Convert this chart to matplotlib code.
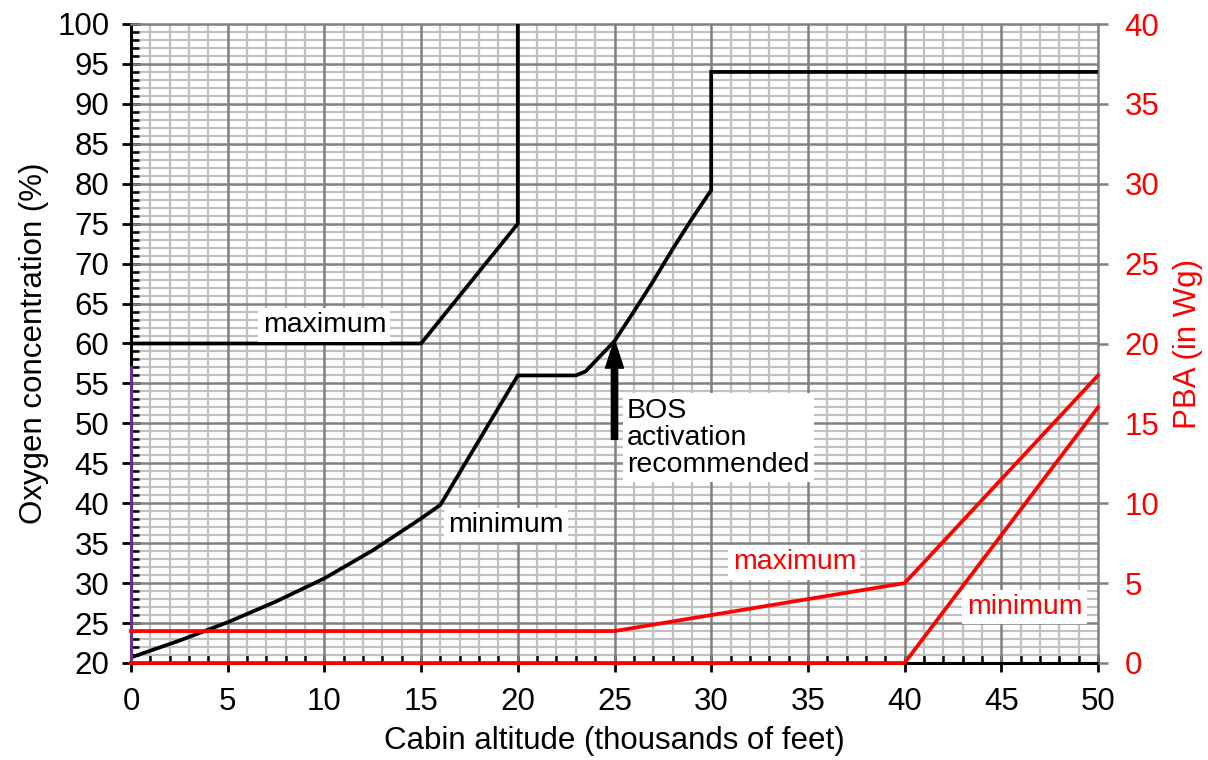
import matplotlib
matplotlib.use("Agg")
import matplotlib.pyplot as plt
from matplotlib.ticker import MultipleLocator

plt.rcParams['font.family'] = ['Liberation Sans', 'DejaVu Sans']

# ---- data ----
max_o2_x1 = [0, 15, 20, 20]
max_o2_y1 = [60, 60, 75, 100]

min_o2_x = [0, 2.5, 5, 7.5, 10, 12.5, 15, 16, 20, 23, 23.5, 25, 26, 27, 28, 29, 30, 30, 50]
min_o2_y = [20.7, 22.8, 25.1, 27.7, 30.6, 34.1, 38.1, 39.8, 56, 56, 56.5, 60.3, 64.0, 67.8, 71.8, 75.6, 79.2, 94, 94]

purple_x = [0, 0]
purple_y = [20, 57]

pba_max_x = [0, 25, 40, 50]
pba_max_y = [2, 2, 5, 18]
pba_min_x = [0, 40, 50]
pba_min_y = [0, 0, 16]

arrow_x = 25
arrow_from = 48
arrow_to = 60.4

fig = plt.figure(figsize=(12.08, 7.6), dpi=100)
ax = fig.add_axes([131/1208, 1-663/760, (1098-131)/1208, (663-24)/760])

ax.set_xlim(0, 50)
ax.set_ylim(20, 100)
ax.xaxis.set_major_locator(MultipleLocator(5))
ax.xaxis.set_minor_locator(MultipleLocator(1))
ax.yaxis.set_major_locator(MultipleLocator(5))
ax.yaxis.set_minor_locator(MultipleLocator(1))

ax.set_axisbelow(True)
ax.grid(which='minor', color='#c0c0c0', lw=1.6)
# major grid drawn above minor grid
for t in ax.get_xticks():
    if 0 < t < 50:
        ax.axvline(t, color='#808080', lw=1.8, zorder=1)
for t in ax.get_yticks():
    if 20 < t < 100:
        ax.axhline(t, color='#808080', lw=1.8, zorder=1)

for s in ['top', 'right']:
    ax.spines[s].set_color('#808080')
    ax.spines[s].set_linewidth(1.8)
for s in ['left', 'bottom']:
    ax.spines[s].set_color('black')
    ax.spines[s].set_linewidth(2.2)

ax.tick_params(which='major', direction='inout', length=13, width=2, colors='black',
               labelsize=22.5)
ax.tick_params(which='minor', direction='in', length=6, width=1.8, colors='black')
ax.tick_params(axis='y', which='both', right=False)
ax.tick_params(axis='x', which='both', top=False)
ax.tick_params(axis='y', which='major', pad=9)
ax.tick_params(axis='x', which='major', pad=11)

ax.set_xlabel('Cabin altitude (thousands of feet)', fontsize=22.5, labelpad=6)
ax.set_ylabel('Oxygen concentration (%)', fontsize=22.5, labelpad=6)

ax.plot(max_o2_x1, max_o2_y1, color='black', lw=2.7, zorder=3, solid_joinstyle='miter')
ax.plot(min_o2_x, min_o2_y, color='black', lw=2.7, zorder=3, solid_joinstyle='miter')
ax.plot(purple_x, purple_y, color='#7030a0', lw=2, zorder=4, clip_on=False)

ax.annotate('', xy=(arrow_x, arrow_to), xytext=(arrow_x, arrow_from),
            arrowprops=dict(facecolor='black', edgecolor='black', width=4.5,
                            headwidth=13, headlength=20, shrink=0), zorder=5)

ax2 = ax.twinx()
ax2.set_ylim(0, 40)
ax2.yaxis.set_major_locator(MultipleLocator(5))
ax2.tick_params(axis='y', which='major', direction='out', length=7, width=1.8,
                colors='#808080', labelcolor='#ff0000', labelsize=22.5, pad=12)
for s in ax2.spines.values():
    s.set_visible(False)
ax2.set_ylabel('PBA (in Wg)', fontsize=22.5, color='#ff0000', labelpad=10)

ax2.plot(pba_max_x, pba_max_y, color='#ff0000', lw=2.7, zorder=3, clip_on=False)
ax2.plot(pba_min_x, pba_min_y, color='#ff0000', lw=2.7, zorder=3, clip_on=False)

box = dict(facecolor='white', edgecolor='none', pad=3)
tr = ax.transData
fs = 20.5
ax2.text(10.0, 62.3, 'maximum', transform=tr, fontsize=fs, ha='center', va='center',
         color='black', bbox=box, zorder=6)
ax2.text(19.4, 37.3, 'minimum', transform=tr, fontsize=fs, ha='center', va='center',
         color='black', bbox=box, zorder=6)
ax2.text(25.65, 48.2, 'BOS\nactivation\nrecommended', transform=tr, fontsize=fs,
         ha='left', va='center', color='black', bbox=box, zorder=6, linespacing=1.05)
ax2.text(34.3, 32.6, 'maximum', transform=tr, fontsize=fs, ha='center', va='center',
         color='#ff0000', bbox=box, zorder=6)
ax2.text(46.2, 27.0, 'minimum', transform=tr, fontsize=fs, ha='center', va='center',
         color='#ff0000', bbox=box, zorder=6)

fig.savefig('out.png', dpi=100)
